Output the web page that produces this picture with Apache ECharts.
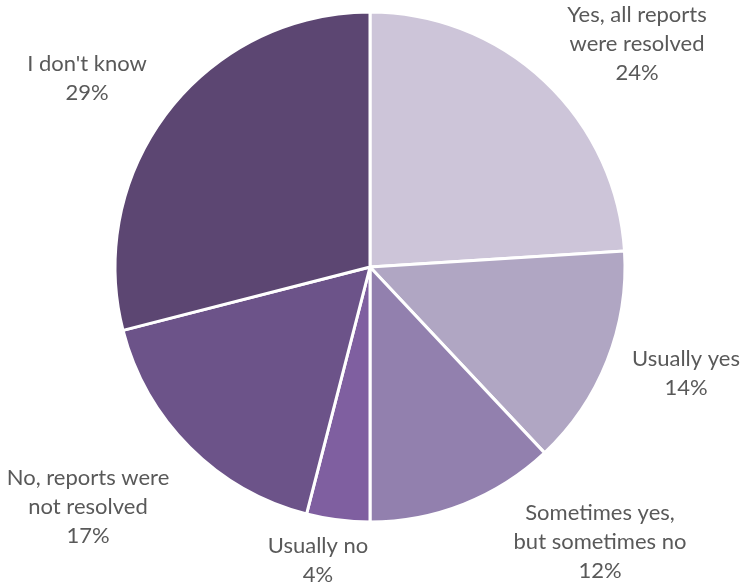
<!DOCTYPE html>
<html>
<head>
<meta charset="utf-8">
<script src="https://cdn.jsdelivr.net/npm/echarts@6/dist/echarts.min.js"></script>
<style>
  html, body { margin: 0; padding: 0; background: #ffffff; }
  #chart { width: 742px; height: 585px; }
</style>
</head>
<body>
<div id="chart"></div>
<script>
// Answers to "Were your reports resolved?" (share of respondents, %)
const categories = [
  'Yes, all reports\nwere resolved',
  'Usually yes',
  'Sometimes yes,\nbut sometimes no',
  'Usually no',
  'No, reports were\nnot resolved',
  "I don't know"
];
const shares = [24, 14, 12, 4, 17, 29];

// Slice colours, light to dark purple
const sliceColors = ['#CDC5D9', '#B0A6C3', '#9280AE', '#7F5FA0', '#6C5389', '#5C4672'];

// Where each label block sits, as an offset from the pie centre (px)
const labelOffsets = [
  [267, -223],
  [316, 106],
  [230, 275],
  [-52, 293],
  [-282, 240],
  [-283, -189]
];

const cx = 370, cy = 267, radius = 255;

const chart = echarts.init(document.getElementById('chart'), null, { renderer: 'canvas' });

chart.setOption({
  animation: false,
  backgroundColor: '#ffffff',
  series: [{
    type: 'pie',
    center: [cx, cy],
    radius: [0, radius],
    startAngle: 90,
    clockwise: true,
    avoidLabelOverlap: false,
    itemStyle: { borderColor: '#ffffff', borderWidth: 3 },
    label: {
      show: true,
      position: 'outside',
      formatter: p => p.name + '\n' + p.value + '%',
      color: '#595959',
      fontFamily: 'Lato',
      fontSize: 22,
      lineHeight: 29,
      align: 'center'
    },
    labelLine: { show: false },
    labelLayout: params => {
      const off = labelOffsets[params.dataIndex];
      return {
        x: cx + off[0],
        y: cy + off[1],
        align: 'center',
        verticalAlign: 'middle'
      };
    },
    data: categories.map((name, i) => ({
      name: name,
      value: shares[i],
      itemStyle: { color: sliceColors[i] }
    }))
  }]
});
</script>
</body>
</html>
